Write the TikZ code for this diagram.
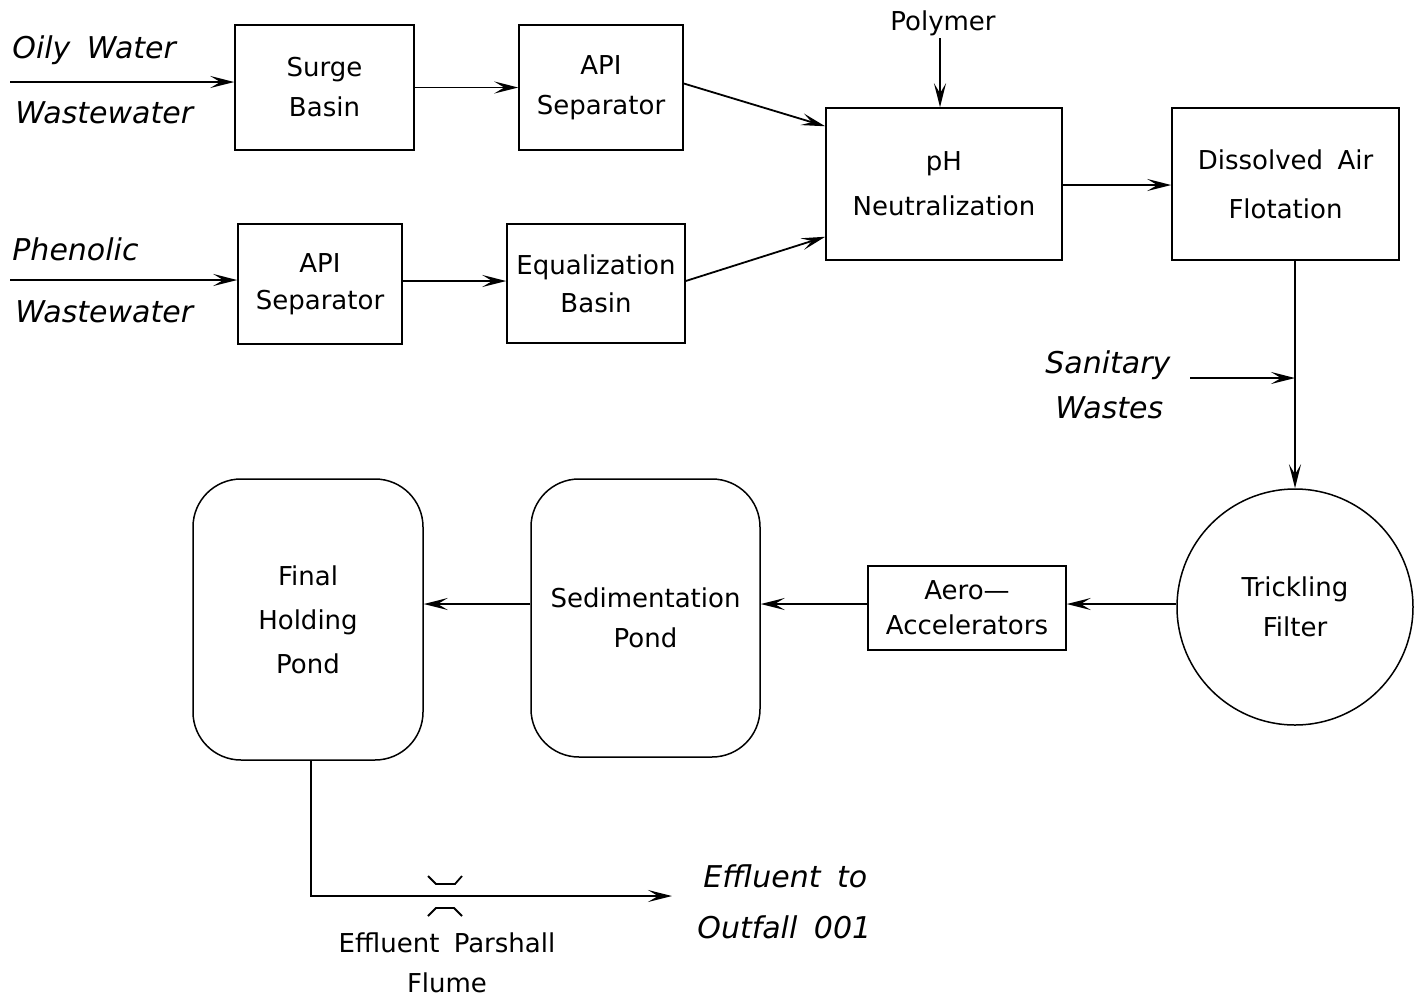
\documentclass[tikz,border=0pt]{standalone}
\usepackage{fontspec}
\setmainfont{DejaVu Sans}
\usetikzlibrary{arrows.meta,calc}
\newcommand{\wsp}{\hspace{0.55em}}
\begin{document}
\begin{tikzpicture}[x=0.5pt,y=-0.5pt,
  box/.style={draw,line width=0.75pt,align=center,inner sep=0pt,font=\fontsize{13}{20}\selectfont},
  pond/.style={box,rounded corners=24pt},
  arr/.style={line width=0.9pt,-{Stealth[length=12pt,width=6pt,inset=5pt]}},
  lab/.style={font=\fontsize{15}{18}\selectfont\itshape,anchor=base west,inner sep=0pt},
  txt/.style={font=\fontsize{13}{16}\selectfont,anchor=base,inner sep=0pt},
  ln/.style={line width=0.9pt}]
\useasboundingbox (0,0) rectangle (1415,1002);

% top row
\node[box,minimum width=89.5pt,minimum height=62.5pt] (surge) at (324.5,87.5) {Surge\\Basin};
\node[box,minimum width=82pt,minimum height=62.5pt] (api1) at (601,87.5) {API\\Separator};
\node[box,minimum width=118pt,minimum height=76pt] (ph) at (944,184) {pH\\[2.5pt]Neutralization};
\node[box,minimum width=113.5pt,minimum height=76pt] (daf) at (1285.5,184) {Dissolved\wsp Air\\[4.5pt]Flotation};
% second row
\node[box,minimum width=82pt,minimum height=60pt] (api2) at (320,284) {API\\[-1.5pt]Separator};
\node[box,minimum width=89pt,minimum height=59.5pt] (eq) at (596,283.5) {Equalization\\[-1pt]Basin};
% lower row
\node[box,circle,minimum size=118pt] (tf) at (1295,607) {Trickling\\Filter};
\node[box,minimum width=99pt,minimum height=42pt] (aero) at (967,608) {Aero---\\[-2.5pt]Accelerators};
\node[pond,minimum width=114.5pt,minimum height=139pt] (sed) at (645.5,618) {Sedimentation\\Pond};
\node[pond,minimum width=115pt,minimum height=140.5pt] (fhp) at (308,619.5) {Final\\[2pt]Holding\\[2pt]Pond};

% labels
\node[lab] (oily1) at (12,58) {Oily\wsp Water};
\node[lab] (oily2) at (15,123) {Wastewater};
\node[lab] (phen1) at (12,260) {Phenolic};
\node[lab] (phen2) at (15,322) {Wastewater};
\node[lab] (san1) at (1045,373) {Sanitary};
\node[lab] (san2) at (1055,418) {Wastes};
\node[lab] (eff1) at (703,887) {Effluent\wsp to};
\node[lab] (eff2) at (697,938) {Outfall\wsp 001};
\node[txt] (poly) at (943,30) {Polymer};
\node[txt] (park1) at (447,952) {Effluent\wsp Parshall};
\node[txt] (park2) at (447,992) {Flume};

% free ends
\coordinate (oilin) at (10,82);
\coordinate (phenin) at (10,280);
\coordinate (sanin) at (1190,378);
\coordinate (polytop) at (940,38);
\coordinate (outend) at (672,896);
\coordinate (j) at (tf.north |- sanin);
\coordinate (row) at (0,604);

% connectors
\draw[arr] (oilin) -- (oilin -| surge.west);
\draw[arr] (surge.east) -- (api1.west);
\draw[arr] ($(api1.east)+(0,-4)$) -- ($(ph.north west)+(0,19)$);
\draw[arr] (phenin) -- (phenin -| api2.west);
\draw[arr] ($(api2.east)+(0,-3)$) -- ($(eq.west)+(0,-2.5)$);
\draw[arr] ($(eq.east)+(0,-2.5)$) -- ($(ph.south west)+(0,-24)$);
\draw[arr] (polytop) -- (polytop |- ph.north);
\draw[arr] ($(ph.east)+(0,1)$) -- ($(daf.west)+(0,1)$);
\draw[ln] (daf.south -| tf.north) -- (j);
\draw[arr] (j) -- (tf.north);
\draw[arr] (sanin) -- (j);
\draw[arr] (tf.west |- row) -- (aero.east |- row);
\draw[arr] (aero.west |- row) -- (sed.east |- row);
\draw[arr] (sed.west |- row) -- (fhp.east |- row);
\draw[arr] ($(fhp.south)+(3,0)$) -- ($(fhp.south |- outend)+(3,0)$) -- (outend);

% Parshall flume
\draw[ln] (428,876) -- (436,884) -- (455,884) -- (462,876);
\draw[ln] (428,916) -- (436,908) -- (454,908) -- (462,916);
\end{tikzpicture}
\end{document}
